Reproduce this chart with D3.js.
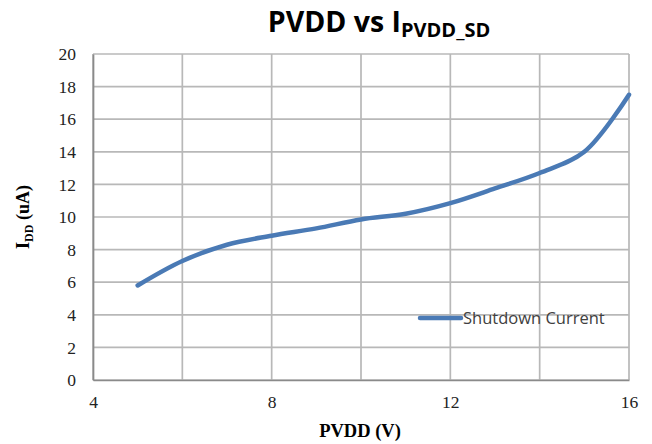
<!DOCTYPE html>
<html>
<head>
<meta charset="utf-8">
<script src="https://cdn.jsdelivr.net/npm/d3@7"></script>
<style>
  body { margin: 0; background: #fff; }
  svg { display: block; }
</style>
</head>
<body>
<div id="chart"></div>
<script>
// values
var pvdd = [5, 6, 7, 8, 9, 10, 11, 12, 13, 14, 15, 16];
var iddShutdown = [5.8, 7.3, 8.3, 8.85, 9.3, 9.85, 10.2, 10.85, 11.75, 12.7, 14.0, 17.5];
var xGrid = [4, 6, 8, 10, 12, 14, 16];
var xTickLabels = [4, 8, 12, 16];
var yTicks = [0, 2, 4, 6, 8, 10, 12, 14, 16, 18, 20];
var seriesName = "Shutdown Current";

var width = 652, height = 444,
    lineColor = "#4a7ab5",
    gridColor = "#b8b8b8";

var svg = d3.select("#chart").append("svg")
  .attr("width", width)
  .attr("height", height);

var x = d3.scaleLinear().domain([4, 16]).range([93, 629]);
var y = d3.scaleLinear().domain([0, 20]).range([380, 54]);

// grid
svg.append("g").selectAll("line.h")
  .data(yTicks)
  .enter().append("line")
  .attr("x1", x(4)).attr("x2", x(16))
  .attr("y1", function(d) { return y(d); })
  .attr("y2", function(d) { return y(d); })
  .attr("stroke", gridColor)
  .attr("stroke-width", 1.7);

svg.append("g").selectAll("line.v")
  .data(xGrid)
  .enter().append("line")
  .attr("y1", y(0)).attr("y2", y(20))
  .attr("x1", function(d) { return x(d); })
  .attr("x2", function(d) { return x(d); })
  .attr("stroke", gridColor)
  .attr("stroke-width", 1.7);

// axes (labels only, no tick marks)
var yAxis = d3.axisLeft(y).tickValues(yTicks).tickSize(0).tickPadding(17);
svg.append("g")
  .attr("transform", "translate(" + x(4) + ",0)")
  .call(yAxis)
  .call(function(g) { g.select(".domain").attr("stroke", "#8a8a8a").attr("stroke-width", 1.7); })
  .selectAll("text")
  .attr("font-family", "'Liberation Serif', serif")
  .attr("font-size", 17.5)
  .attr("fill", "#222");

var xAxis = d3.axisBottom(x).tickValues(xTickLabels).tickSize(0).tickPadding(16);
svg.append("g")
  .attr("transform", "translate(0," + y(0) + ")")
  .call(xAxis)
  .call(function(g) { g.select(".domain").attr("stroke", "#8a8a8a").attr("stroke-width", 1.7); })
  .selectAll("text")
  .attr("font-family", "'Liberation Serif', serif")
  .attr("font-size", 17.5)
  .attr("fill", "#222");

// series
var line = d3.line()
  .x(function(d, i) { return x(pvdd[i]); })
  .y(function(d) { return y(d); })
  .curve(d3.curveCatmullRom.alpha(0.5));

svg.append("path")
  .datum(iddShutdown)
  .attr("d", line)
  .attr("fill", "none")
  .attr("stroke", lineColor)
  .attr("stroke-width", 4.5)
  .attr("stroke-linecap", "round");

// title
var title = svg.append("text")
  .attr("x", 379)
  .attr("y", 32)
  .attr("text-anchor", "middle")
  .attr("font-family", "'Open Sans', sans-serif")
  .attr("font-weight", "bold")
  .attr("font-size", 28.5)
  .attr("fill", "#000");
title.append("tspan").text("PVDD vs I");
title.append("tspan").attr("dy", 5).attr("font-size", 20).text("PVDD_SD");

// axis titles
svg.append("text")
  .attr("x", 360)
  .attr("y", 437)
  .attr("text-anchor", "middle")
  .attr("font-family", "'Liberation Serif', serif")
  .attr("font-weight", "bold")
  .attr("font-size", 18.5)
  .text("PVDD (V)");

var yl = svg.append("text")
  .attr("transform", "translate(29,217) rotate(-90)")
  .attr("text-anchor", "middle")
  .attr("font-family", "'Liberation Serif', serif")
  .attr("font-weight", "bold")
  .attr("font-size", 18);
yl.append("tspan").text("I");
yl.append("tspan").attr("dy", 4).attr("font-size", 12).text("DD");
yl.append("tspan").attr("dy", -4).text(" (uA)");

// legend
var legend = svg.append("g").attr("transform", "translate(420,318)");
legend.append("line")
  .attr("x1", 0).attr("x2", 41)
  .attr("stroke", lineColor)
  .attr("stroke-width", 4.5)
  .attr("stroke-linecap", "round");
legend.append("text")
  .attr("x", 43)
  .attr("y", 6)
  .attr("font-family", "'Open Sans', sans-serif")
  .attr("font-size", 16.5)
  .attr("fill", "#404040")
  .text(seriesName);
</script>
</body>
</html>
